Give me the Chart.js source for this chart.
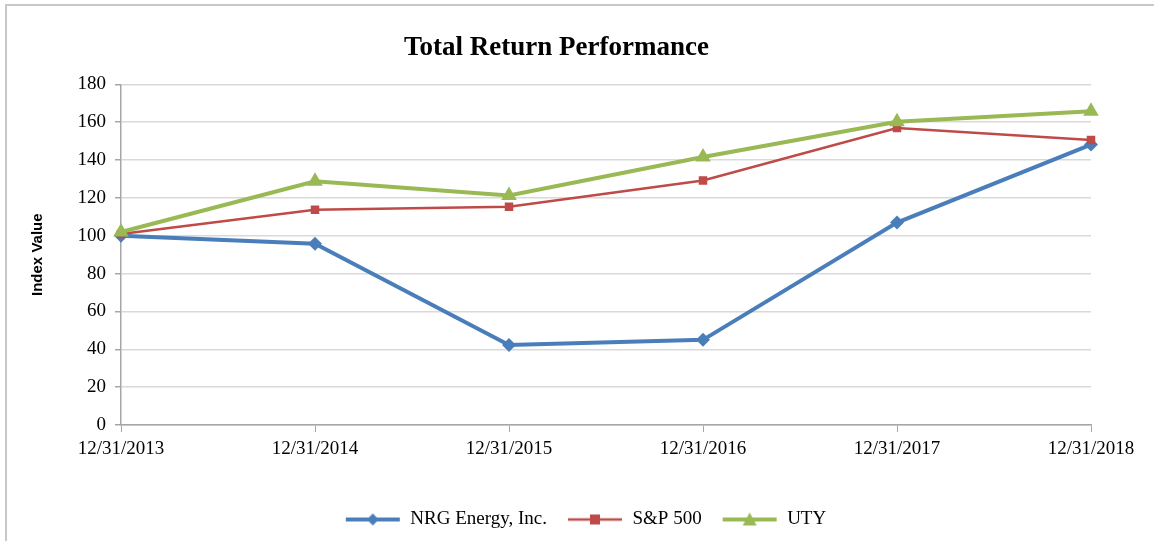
<!DOCTYPE html>
<html>
<head>
<meta charset="utf-8">
<script src="https://cdn.jsdelivr.net/npm/chart.js@4"></script>
<style>
    html, body { margin: 0; padding: 0; background: #fff; }
    #wrap { position: relative; width: 1154px; height: 541px; overflow: hidden; }
    #frame {
        position: absolute; left: 5px; top: 4px; width: 1200px; height: 600px;
        border-left: 2px solid #c8c8c8; border-top: 2px solid #c8c8c8;
    }
    #chart { position: absolute; left: 0; top: 0; }
</style>
</head>
<body>
<div id="wrap">
    <div id="frame"></div>
    <canvas id="chart" width="1154" height="541"></canvas>
</div>
<script>
// Chart data
const categories = ['12/31/2013', '12/31/2014', '12/31/2015', '12/31/2016', '12/31/2017', '12/31/2018'];
const nrgValues = [100, 95.8, 42.3, 45.0, 107.0, 148.2];
const spValues = [101, 113.7, 115.3, 129.2, 157.0, 150.6];
const utyValues = [102, 128.8, 121.3, 141.6, 160.3, 165.8];
const yTicks = [0, 20, 40, 60, 80, 100, 120, 140, 160, 180];

const series = [
    { label: 'NRG Energy, Inc.', data: nrgValues, color: '#4a7ebb', width: 4, marker: 'rectRot', radius: 7, order: 3 },
    { label: 'S&P 500', data: spValues, color: '#be4b48', width: 2.5, marker: 'rect', radius: 6, order: 2 },
    { label: 'UTY', data: utyValues, color: '#98b954', width: 4, marker: 'triangle', radius: 9, order: 1 }
];

const serif = "'Liberation Serif', 'Times New Roman', serif";

// legend swatch: a short line with the marker in its middle
function legendSwatch(s) {
    const c = document.createElement('canvas');
    c.width = 56;
    c.height = 18;
    const g = c.getContext('2d');
    g.strokeStyle = s.color;
    g.lineWidth = s.width;
    g.beginPath();
    g.moveTo(1, 9);
    g.lineTo(55, 9);
    g.stroke();
    g.fillStyle = s.color;
    g.beginPath();
    if (s.marker === 'rectRot') {
        g.moveTo(28, 3); g.lineTo(34, 9); g.lineTo(28, 15); g.lineTo(22, 9);
    } else if (s.marker === 'rect') {
        g.rect(23, 4, 10, 10);
    } else {
        g.moveTo(28, 2); g.lineTo(35, 15); g.lineTo(21, 15);
    }
    g.closePath();
    g.fill();
    return c;
}

// nudge title and legend sideways like the original
const shiftBoxes = {
    id: 'shiftBoxes',
    afterLayout(chart) {
        const t = chart.titleBlock;
        if (t) { t.left += 11; t.right += 11; }
        const l = chart.legend;
        if (l) { l.left += 40; l.right += 40; }
    }
};

const ctx = document.getElementById('chart').getContext('2d');

new Chart(ctx, {
    type: 'line',
    data: {
        labels: categories,
        datasets: series.map(s => ({
            label: s.label,
            data: s.data,
            borderColor: s.color,
            backgroundColor: s.color,
            borderWidth: s.width,
            pointStyle: s.marker,
            pointRadius: s.radius,
            pointBorderWidth: 0,
            pointBackgroundColor: s.color,
            tension: 0,
            order: s.order
        }))
    },
    options: {
        responsive: false,
        animation: false,
        layout: { padding: { left: 0, right: 63, top: 0, bottom: 2 } },
        plugins: {
            title: {
                display: true,
                text: 'Total Return Performance',
                color: '#000',
                font: { family: serif, size: 27, weight: 'bold', lineHeight: 1.2 },
                padding: { top: 32, bottom: 20 }
            },
            legend: {
                position: 'bottom',
                labels: {
                    color: '#000',
                    font: { family: serif, size: 19 },
                    usePointStyle: true,
                    pointStyleWidth: 56,
                    padding: 20,
                    generateLabels: () => series.map((s, i) => ({
                        text: s.label,
                        pointStyle: legendSwatch(s),
                        fillStyle: s.color,
                        strokeStyle: s.color,
                        lineWidth: 0,
                        datasetIndex: i,
                        fontColor: '#000'
                    }))
                }
            },
            tooltip: { enabled: false }
        },
        scales: {
            x: {
                offset: false,
                grid: { drawOnChartArea: false, tickLength: 7, tickColor: '#a6a6a6' },
                border: { color: '#a6a6a6', width: 1.5 },
                ticks: { color: '#000', font: { family: serif, size: 19 }, padding: 6, maxRotation: 0 },
                afterFit: scale => { scale.height = 65; }
            },
            y: {
                min: 0,
                max: 180,
                afterBuildTicks: scale => { scale.ticks = yTicks.map(v => ({ value: v })); },
                grid: { color: '#d9d9d9', lineWidth: 1.5, tickLength: 6, tickColor: '#a6a6a6' },
                border: { color: '#a6a6a6', width: 1.5 },
                ticks: { color: '#000', font: { family: serif, size: 19 }, padding: 9 },
                title: {
                    display: true,
                    text: 'Index Value',
                    color: '#000',
                    font: { family: "'Liberation Sans', Arial, sans-serif", size: 15, weight: 'bold' },
                    padding: { top: 29, bottom: 0 }
                },
                afterFit: scale => { scale.width = 121; }
            }
        }
    },
    plugins: [shiftBoxes]
});
</script>
</body>
</html>
